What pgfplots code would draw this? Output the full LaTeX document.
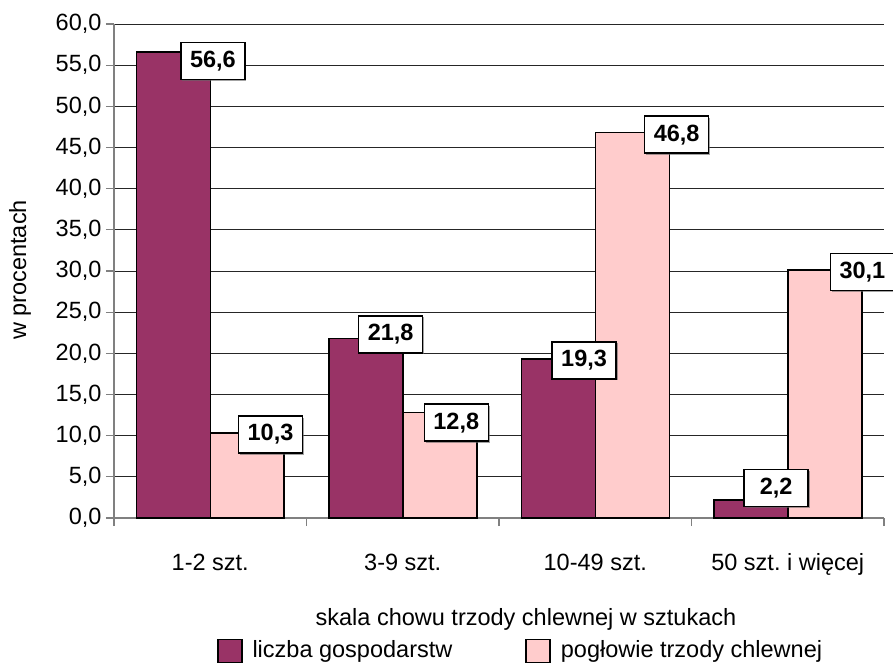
\documentclass[border=0pt]{standalone}
\usepackage{fontspec}
\setmainfont{Liberation Sans}
\usepackage{pgfplots}
\pgfplotsset{compat=1.18}
\usepackage{pgfplotstable}
\usetikzlibrary{shadows}
\definecolor{plum}{HTML}{993366}
\definecolor{pinkb}{HTML}{FFCCCC}
\definecolor{axgray}{HTML}{808080}

\pgfplotstableread{
x y lab
0.014 55.5 56,6
0.313 10.14 10,3
0.937 22.3 21,8
1.278 11.57 12,8
1.942 19.15 19,3
2.423 46.56 46,8
2.940 3.64 2,2
3.388 29.88 30,1
}\labelstab

\begin{document}
\frenchspacing
\fontsize{23.5}{28}\selectfont
\begin{tikzpicture}
\useasboundingbox (0,0) rectangle (893pt,662pt);
\begin{axis}[
  at={(114pt,144pt)}, anchor=south west,
  scale only axis, width=770pt, height=494pt,
  xmin=-0.5, xmax=3.5, ymin=0, ymax=60,
  clip=false,
  axis x line=bottom, axis y line=left,
  axis line style={-, draw=axgray, line width=1.5pt},
  ytick={0,5,...,60},
  ymajorgrids,
  grid style={draw=black!85, line width=0.9pt},
  tick align=outside,
  major tick length=8pt, minor tick length=8pt,
  tick style={draw=axgray, line width=1.2pt},
  xtick={0,1,2,3},
  xticklabels={1-2 szt., 3-9 szt., 10-49 szt., 50 szt. i więcej},
  major x tick style={draw=none},
  minor xtick={-0.5,0.5,1.5,2.5,3.5},
  xticklabel style={anchor=base, yshift=-44pt},
  yticklabel style={xshift=3.5pt, /pgf/number format/.cd, fixed, fixed zerofill, precision=1, use comma, assume math mode=true},
  ylabel={w procentach},
  ylabel style={at={(axis description cs:-0.122,0.502)}, anchor=center},
  xlabel={skala chowu trzody chlewnej w sztukach},
  xlabel style={at={(axis description cs:0.535,-0.2166)}, anchor=base},
  legend columns=2,
  legend style={draw=none, fill=none, inner sep=0pt, outer sep=0pt,
    at={(0.1338,-0.2692)}, anchor=west,
    /tikz/every odd column/.append style={column sep=8pt},
    /tikz/every even column/.append style={column sep=71pt}},
  legend image code/.code={\draw[#1, line width=1.5pt] (0pt,-11.5pt) rectangle (24pt,11.5pt);},
]
\addplot[ybar, bar width=0.3844, bar shift=-0.1922, fill=plum, draw=black, line width=1.5pt]
  coordinates {(0,56.6) (1,21.8) (2,19.3) (3,2.2)};
\addlegendentry{liczba gospodarstw}
\addplot[ybar, bar width=0.3844, bar shift=0.1922, fill=pinkb, draw=black, line width=1.5pt]
  coordinates {(0,10.3) (1,12.8) (2,46.8) (3,30.1)};
\addlegendentry{pogłowie trzody chlewnej}
\addplot[draw=none, mark=none, forget plot,
  nodes near coords, point meta=explicit symbolic,
  nodes near coords align={center},
  every node near coord/.append style={anchor=center, font=\bfseries, fill=white, draw=black,
    line width=1.5pt, inner sep=0pt, minimum width=64pt, minimum height=37pt, text=black,
    drop shadow={shadow xshift=1.5pt, shadow yshift=-1.5pt, fill=black!60, opacity=0.6}}]
  table[x=x, y=y, meta=lab] {\labelstab};
\end{axis}
\end{tikzpicture}
\end{document}
